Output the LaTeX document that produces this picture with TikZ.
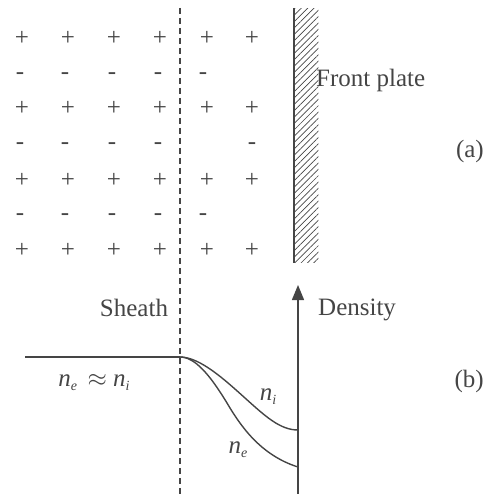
\documentclass[tikz,border=0pt]{standalone}
\usepackage{fontspec}
\setmainfont{Liberation Serif}
\usetikzlibrary{arrows.meta,patterns.meta}
\definecolor{ink}{HTML}{454545}
\tikzset{
  lbl/.style={text=ink,font=\fontsize{25}{30}\selectfont,inner sep=0pt},
  chg/.style={text=ink,font=\fontsize{25}{30}\selectfont,inner sep=0pt},
  curve/.style={draw=ink,line width=1.4pt},
  sheath/.style={draw=ink,line width=1.3pt,dash pattern=on 6pt off 4pt},
}
\newcommand{\nsub}[1]{\textit{n}\raisebox{-0.35ex}{\fontsize{14}{16}\selectfont\textit{#1}}}
\begin{document}
\begin{tikzpicture}[x=1pt,y=-1pt]
\useasboundingbox (0,0) rectangle (485,494);
% charges
\foreach \yy [count=\r] in {38,108,180,250}{
  \foreach \xx [count=\c] in {22,68,114,160,207,252}{
    \node[chg] (p\r\c) at (\xx,\yy) {+};
  }
}
\foreach \xx [count=\c] in {20,65,112,158,203}{
  \node[chg] (ma\c) at (\xx,76) {-};
  \node[chg] (mc\c) at (\xx,217) {-};
}
\foreach \xx [count=\c] in {20,65,112,158}{
  \node[chg] (mb\c) at (\xx,146) {-};
}
\node[chg] (mb6) at (252,146) {-};
% sheath boundary
\coordinate (st) at (180,8);
\coordinate (sb) at (180,494);
\draw[sheath] (st) -- (sb);
% front plate
\node[pattern={Lines[angle=45,distance=4.5pt,line width=0.7pt]},pattern color=ink,
  minimum width=24pt,minimum height=254pt,inner sep=0pt,anchor=north west] (plate) at (294,8) {};
\draw[ink,line width=2pt] (plate.north west) -- (plate.south west);
\node[lbl,anchor=west] (fp) at (316,80) {Front plate};
\node[lbl,anchor=east] (a) at (484,151) {(a)};
% density axis
\coordinate (ab) at (298,494);
\coordinate (at) at (298,285);
\draw[ink,line width=1.4pt,-{Triangle[length=15pt,width=12pt]}] (ab) -- (at);
\node[lbl,anchor=west] (den) at (318,310) {Density};
\node[lbl] (sh) at (134,308) {Sheath};
\node[lbl,anchor=east] (b) at (484,381) {(b)};
% density curves
\coordinate (c0) at (25,357);
\coordinate (c1) at (180,357);
\coordinate (ci) at (298,430);
\coordinate (ce) at (298,467);
\draw[curve] (c0) -- (c1);
\draw[curve] (c1) .. controls (200,357) and (225,380) .. (245,398)
                  .. controls (265,416) and (280,430) .. (ci);
\draw[curve] (c1) .. controls (195,357) and (210,375) .. (227,403)
                  .. controls (240,425) and (260,455) .. (ce);
\node[lbl] (eq) at (94,383) {\nsub{e}\, $\approx$ \nsub{i}};
\node[lbl] (ni) at (268,397) {\nsub{i}};
\node[lbl] (ne) at (238,450) {\nsub{e}};
\end{tikzpicture}
\end{document}
